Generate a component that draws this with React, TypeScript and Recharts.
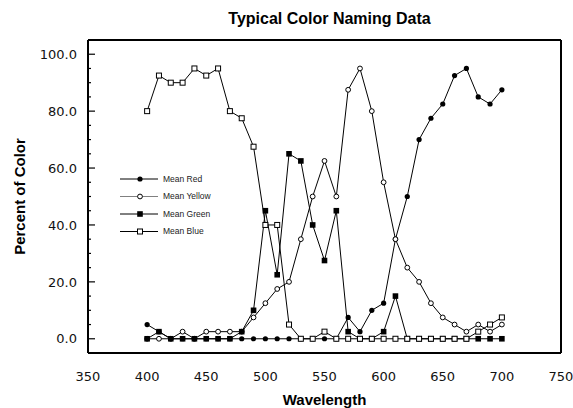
import React from 'react';
import { LineChart, Line, XAxis, YAxis, Legend, Label } from 'recharts';

const wavelengths = [400, 410, 420, 430, 440, 450, 460, 470, 480, 490, 500, 510, 520, 530, 540, 550, 560, 570, 580, 590, 600, 610, 620, 630, 640, 650, 660, 670, 680, 690, 700];
const meanRed = [5, 2.5, 0, 0, 0, 0, 0, 0, 0, 0, 0, 0, 0, 0, 0, 0, 0, 7.5, 2.5, 10, 12.5, 35, 50, 70, 77.5, 82.5, 92.5, 95, 85, 82.5, 87.5];
const meanYellow = [0, 0, 0, 2.5, 0, 2.5, 2.5, 2.5, 2.5, 7.5, 12.5, 17.5, 20, 35, 50, 62.5, 50, 87.5, 95, 80, 55, 35, 25, 20, 12.5, 7.5, 5, 2.5, 5, 2.5, 5];
const meanGreen = [0, 2.5, 0, 0, 0, 0, 0, 0, 2.5, 10, 45, 22.5, 65, 62.5, 40, 27.5, 45, 2.5, 0, 0, 2.5, 15, 0, 0, 0, 0, 0, 0, 0, 0, 0];
const meanBlue = [80, 92.5, 90, 90, 95, 92.5, 95, 80, 77.5, 67.5, 40, 40, 5, 0, 0, 2.5, 0, 0, 0, 0, 0, 0, 0, 0, 0, 0, 0, 0, 2.5, 5, 7.5];

const xTicks = [350, 400, 450, 500, 550, 600, 650, 700, 750];
const yTicks = [0, 5, 10, 15, 20, 25, 30, 35, 40, 45, 50, 55, 60, 65, 70, 75, 80, 85, 90, 95, 100];
const yMajorStep = 20;

const seriesNames = ['Mean Red', 'Mean Yellow', 'Mean Green', 'Mean Blue'];
const seriesKeys = ['red', 'yellow', 'green', 'blue'];
const seriesMarkers = ['filledCircle', 'openCircle', 'filledSquare', 'openSquare'];
const legendLineColors = ['#000', '#808080', '#000', '#000'];

const data = wavelengths.map((w, i) => ({
  w,
  red: meanRed[i],
  yellow: meanYellow[i],
  green: meanGreen[i],
  blue: meanBlue[i],
}));

const Marker = ({ kind, cx, cy }: { kind: string; cx: number; cy: number }) => {
  if (cx == null || cy == null) return null;
  if (kind === 'filledCircle') return <circle cx={cx} cy={cy} r={2.6} fill="#000" />;
  if (kind === 'openCircle') return <circle cx={cx} cy={cy} r={2.4} fill="#fff" stroke="#000" strokeWidth={1} />;
  if (kind === 'filledSquare') return <rect x={cx - 2.8} y={cy - 2.8} width={5.6} height={5.6} fill="#000" />;
  return <rect x={cx - 2.5} y={cy - 2.5} width={5} height={5} fill="#fff" stroke="#000" strokeWidth={1} />;
};

const tickFont = '"DejaVu Sans", Verdana, sans-serif';
const titleFont = '"Liberation Sans", Arial, Helvetica, sans-serif';

const LeftYTick = (props: any) => {
  const { x, y, payload } = props;
  const v = payload.value;
  const major = v % yMajorStep === 0;
  const len = major ? 7 : 3;
  return (
    <g>
      <line x1={x} x2={x + len} y1={y} y2={y} stroke="#000" strokeWidth={1.2} />
      {major && (
        <text x={x - 11} y={y} dy="0.36em" textAnchor="end" fontFamily={tickFont} fontSize={13} fill="#111">
          {v.toFixed(1)}
        </text>
      )}
    </g>
  );
};

const RightYTick = (props: any) => {
  const { x, y, payload } = props;
  const v = payload.value;
  const major = v % yMajorStep === 0;
  const len = major ? 7 : 3;
  return <line x1={x} x2={x - len} y1={y} y2={y} stroke="#000" strokeWidth={1.2} />;
};

const XTick = (props: any) => {
  const { x, y, payload } = props;
  return (
    <text x={x} y={y + 28} textAnchor="middle" fontFamily={tickFont} fontSize={13} fill="#111">
      {payload.value}
    </text>
  );
};

const LegendContent = () => (
  <svg width={110} height={72}>
    {seriesNames.map((name, i) => {
      const y = 9 + i * 17.5;
      return (
        <g key={name}>
          <line x1={2} x2={40} y1={y} y2={y} stroke={legendLineColors[i]} strokeWidth={1} />
          <Marker kind={seriesMarkers[i]} cx={22} cy={y} />
          <text x={45} y={y} dy="0.35em" fontFamily={titleFont} fontSize={8.5} fill="#222">
            {name}
          </text>
        </g>
      );
    })}
  </svg>
);

export default function App() {
  return (
    <div style={{ position: 'absolute', left: 0, top: 0, width: 573, height: 408, background: '#fff' }}>
      <LineChart width={573} height={408} data={data} margin={{ top: 0, right: 0, bottom: 0, left: 0 }}>
        <XAxis
          xAxisId="top"
          orientation="top"
          type="number"
          dataKey="w"
          domain={[350, 750]}
          height={40}
          tick={false}
          tickLine={false}
          axisLine={{ stroke: '#000', strokeWidth: 2 }}
        >
          <Label
            content={(p: any) => {
              const vb = p.viewBox || { x: 88, width: 473 };
              return (
                <text x={vb.x + vb.width / 2 + 5} y={23.5} textAnchor="middle" fontFamily={titleFont} fontWeight="bold" fontSize={16} fill="#000">
                  Typical Color Naming Data
                </text>
              );
            }}
          />
        </XAxis>
        <XAxis
          xAxisId="bottom"
          orientation="bottom"
          type="number"
          dataKey="w"
          domain={[350, 750]}
          ticks={xTicks}
          interval={0}
          height={55}
          tickSize={0}
          tickMargin={0}
          tickLine={false}
          tick={<XTick />}
          axisLine={{ stroke: '#000', strokeWidth: 2 }}
        >
          <Label
            content={(p: any) => {
              const vb = p.viewBox || { x: 88, y: 353, width: 473 };
              return (
                <text x={vb.x + vb.width / 2} y={vb.y + 52} textAnchor="middle" fontFamily={titleFont} fontWeight="bold" fontSize={15} fill="#000">
                  Wavelength
                </text>
              );
            }}
          />
        </XAxis>
        <YAxis
          yAxisId="left"
          orientation="left"
          type="number"
          domain={[-5, 105]}
          ticks={yTicks}
          interval={0}
          width={88}
          tickSize={0}
          tickMargin={0}
          tickLine={false}
          tick={<LeftYTick />}
          axisLine={{ stroke: '#000', strokeWidth: 2 }}
        >
          <Label
            content={(p: any) => {
              const vb = p.viewBox || { y: 40, height: 313 };
              const cy = vb.y + vb.height / 2;
              return (
                <text x={25} y={cy} transform={`rotate(-90, 25, ${cy})`} textAnchor="middle" fontFamily={titleFont} fontWeight="bold" fontSize={15} fill="#000">
                  Percent of Color
                </text>
              );
            }}
          />
        </YAxis>
        <YAxis
          yAxisId="right"
          orientation="right"
          type="number"
          domain={[-5, 105]}
          ticks={yTicks}
          interval={0}
          width={12}
          tickSize={0}
          tickMargin={0}
          tickLine={false}
          tick={<RightYTick />}
          axisLine={{ stroke: '#000', strokeWidth: 2 }}
        />
        <Legend
          layout="vertical"
          align="center"
          verticalAlign="middle"
          wrapperStyle={{ position: 'absolute', left: 118, top: 170, width: 110, height: 72 }}
          content={() => <LegendContent />}
        />
        {seriesKeys.map((key, i) => (
          <Line
            key={key}
            xAxisId="bottom"
            yAxisId="left"
            type="linear"
            dataKey={key}
            name={seriesNames[i]}
            stroke="#000"
            strokeWidth={1}
            isAnimationActive={false}
            dot={(p: any) => <Marker key={`${key}-${p.index}`} kind={seriesMarkers[i]} cx={p.cx} cy={p.cy} />}
            activeDot={false}
          />
        ))}
      </LineChart>
    </div>
  );
}
